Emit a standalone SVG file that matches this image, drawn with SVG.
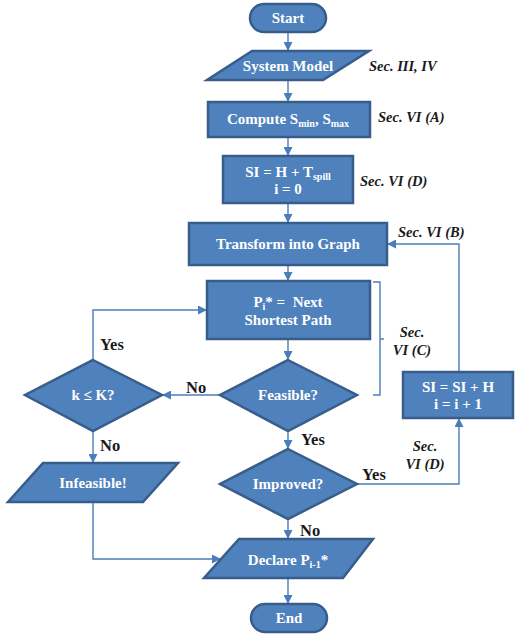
<svg xmlns="http://www.w3.org/2000/svg" width="515" height="637" viewBox="0 0 515 637">
<defs>
<marker id="ah" viewBox="0 0 10 10" refX="10" refY="5" markerWidth="9" markerHeight="9" markerUnits="userSpaceOnUse" orient="auto">
<path d="M0,0 L10,5 L0,10 z" fill="#4A7EBB"/>
</marker>
<style>
.sh{fill:#4F81BD;stroke:#385D8A;stroke-width:2.5}
.t{font-family:"Liberation Serif","Times New Roman",serif;font-weight:bold;font-size:15px;fill:#fff;text-anchor:middle}
.sub{font-size:10px}
.lb{font-family:"Liberation Serif","Times New Roman",serif;font-weight:bold;font-size:16.5px;fill:#1a1a1a}
.sec{font-family:"Liberation Serif","Times New Roman",serif;font-weight:bold;font-style:italic;font-size:14.5px;fill:#1a1a1a}
.c{fill:none;stroke:#4A7EBB;stroke-width:1.4}
</style>
</defs>
<rect width="515" height="637" fill="#fff"/>
<g id="connectors">
<path class="c" d="M288,32 V51" marker-end="url(#ah)"/>
<path class="c" d="M288,80 V102" marker-end="url(#ah)"/>
<path class="c" d="M288,137 V156" marker-end="url(#ah)"/>
<path class="c" d="M288,203 V223" marker-end="url(#ah)"/>
<path class="c" d="M288,265 V281" marker-end="url(#ah)"/>
<path class="c" d="M288,339 V360" marker-end="url(#ah)"/>
<path class="c" d="M220,395 H162" marker-end="url(#ah)"/>
<path class="c" d="M93,360 V310 H207" marker-end="url(#ah)"/>
<path class="c" d="M93,431 V463" marker-end="url(#ah)"/>
<path class="c" d="M93,502 V559 H221" marker-end="url(#ah)"/>
<path class="c" d="M288,431 V449" marker-end="url(#ah)"/>
<path class="c" d="M357,484 H459 V418" marker-end="url(#ah)"/>
<path class="c" d="M459,372 V244 H387" marker-end="url(#ah)"/>
<path class="c" d="M288,519 V539" marker-end="url(#ah)"/>
<path class="c" d="M288,578 V604" marker-end="url(#ah)"/>
<path class="c" d="M373,282 H380 V395 H373 M380,339 H384"/>
</g>
<g id="start">
<rect class="sh" x="250" y="4" width="76" height="28" rx="14"/>
<text class="t" x="288" y="23">Start</text>
</g>
<g id="system-model">
<polygon class="sh" points="252,51 369,51 323,80 207,80"/>
<text class="t" x="288" y="71">System Model</text>
<text class="sec" x="369" y="71">Sec. III, IV</text>
</g>
<g id="compute">
<rect class="sh" x="208" y="102" width="162" height="35"/>
<text class="t" x="288" y="124">Compute S<tspan class="sub" dy="3">min</tspan><tspan dy="-3">, S</tspan><tspan class="sub" dy="3">max</tspan></text>
<text class="sec" x="378" y="122">Sec. VI (A)</text>
</g>
<g id="si-init">
<rect class="sh" x="223" y="156" width="130" height="47"/>
<text class="t" x="288" y="177">SI = H + T<tspan class="sub" dy="3">spill</tspan></text>
<text class="t" x="288" y="194">i = 0</text>
<text class="sec" x="360" y="186">Sec. VI (D)</text>
</g>
<g id="transform">
<rect class="sh" x="189" y="223" width="198" height="42"/>
<text class="t" x="288" y="249">Transform into Graph</text>
<text class="sec" x="398" y="237">Sec. VI (B)</text>
</g>
<g id="next-path">
<rect class="sh" x="207" y="281" width="163" height="58"/>
<text class="t" x="288" y="307" xml:space="preserve">P<tspan class="sub" dy="3">i</tspan><tspan dy="-3">* =  Next</tspan></text>
<text class="t" x="288" y="325">Shortest Path</text>
<text class="sec" x="412" y="337" text-anchor="middle">Sec.</text>
<text class="sec" x="412" y="355" text-anchor="middle">VI (C)</text>
</g>
<g id="feasible">
<polygon class="sh" points="288,360 357,395 288,431 220,395"/>
<text class="t" x="288" y="400">Feasible?</text>
<text class="lb" x="186" y="393">No</text>
<text class="lb" x="301" y="445">Yes</text>
</g>
<g id="k-check">
<polygon class="sh" points="93,360 162,395 93,431 25,395"/>
<text class="t" x="93" y="400">k ≤ K?</text>
<text class="lb" x="100" y="350">Yes</text>
<text class="lb" x="100" y="451">No</text>
</g>
<g id="si-update">
<rect class="sh" x="403" y="372" width="110" height="46"/>
<text class="t" x="458" y="392">SI = SI + H</text>
<text class="t" x="458" y="409">i = i + 1</text>
<text class="sec" x="425" y="451" text-anchor="middle">Sec.</text>
<text class="sec" x="425" y="469" text-anchor="middle">VI (D)</text>
</g>
<g id="infeasible">
<polygon class="sh" points="43,463 178,463 143,502 8,502"/>
<text class="t" x="93" y="488">Infeasible!</text>
</g>
<g id="improved">
<polygon class="sh" points="288,449 357,484 288,519 220,484"/>
<text class="t" x="288" y="489">Improved?</text>
<text class="lb" x="362" y="480">Yes</text>
<text class="lb" x="300" y="536">No</text>
</g>
<g id="declare">
<polygon class="sh" points="239,539 373,539 343,578 204,578"/>
<text class="t" x="288" y="565">Declare P<tspan class="sub" dy="3">i-1</tspan><tspan dy="-3">*</tspan></text>
</g>
<g id="end">
<rect class="sh" x="251" y="604" width="76" height="28" rx="14"/>
<text class="t" x="289" y="623">End</text>
</g>
</svg>
